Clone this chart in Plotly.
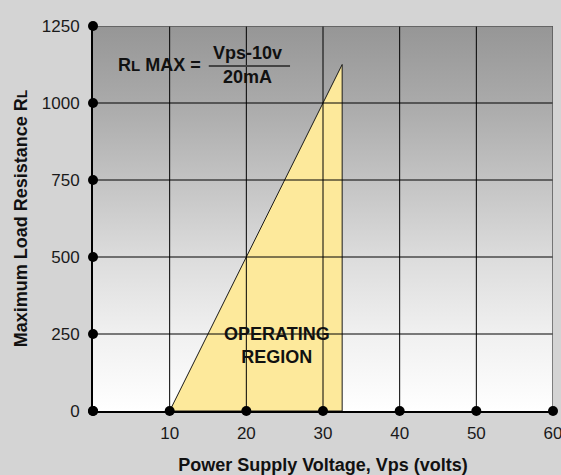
import plotly.graph_objects as go

# ---- data ----
x_ticks = [10, 20, 30, 40, 50, 60]
y_ticks = [0, 250, 500, 750, 1000, 1250]
x_range = [0, 60]
y_range = [0, 1250]
region_x = [10, 32.5, 32.5, 10]
region_y = [0, 1125, 0, 0]

FONT = "Liberation Sans, Arial, sans-serif"

fig = go.Figure()

# gradient plot background
fig.add_trace(go.Scatter(
    x=[x_range[0], x_range[1], x_range[1], x_range[0], x_range[0]],
    y=[y_range[0], y_range[0], y_range[1], y_range[1], y_range[0]],
    mode="lines", line=dict(width=0), fill="toself",
    fillgradient=dict(type="vertical",
                      colorscale=[[0, "#ffffff"], [0.2, "#f0f0f0"], [0.4, "#dcdcdc"],
                                  [0.6, "#c3c3c3"], [0.8, "#aaaaaa"], [1, "#969696"]]),
    hoverinfo="skip", showlegend=False))

# operating region
fig.add_trace(go.Scatter(
    x=region_x, y=region_y, mode="lines", fill="toself",
    fillcolor="#fde99b", line=dict(color="#1a1a1a", width=1),
    hoverinfo="skip", showlegend=False))

# grid lines above fill
gx, gy = [], []
for xv in x_ticks[:-1]:
    gx += [xv, xv, None]
    gy += [y_range[0], y_range[1], None]
for yv in y_ticks[1:-1]:
    gx += [x_range[0], x_range[1], None]
    gy += [yv, yv, None]
fig.add_trace(go.Scatter(x=gx, y=gy, mode="lines",
                         line=dict(color="#000000", width=1),
                         hoverinfo="skip", showlegend=False))
# outer border lines (top / right)
fig.add_trace(go.Scatter(x=[x_range[0], x_range[1], x_range[1]],
                         y=[y_range[1], y_range[1], y_range[0]], mode="lines",
                         line=dict(color="#555555", width=1.5), cliponaxis=False,
                         hoverinfo="skip", showlegend=False))

# axis dots
fig.add_trace(go.Scatter(x=[0] + x_ticks, y=[0] * (len(x_ticks) + 1), mode="markers",
                         marker=dict(color="black", size=10), cliponaxis=False,
                         hoverinfo="skip", showlegend=False))
fig.add_trace(go.Scatter(x=[0] * len(y_ticks), y=y_ticks, mode="markers",
                         marker=dict(color="black", size=10), cliponaxis=False,
                         hoverinfo="skip", showlegend=False))

# formula annotation
fig.add_annotation(x=8.7, y=1123, xref="x", yref="y",
                   text="<b>R<span style='font-size:15px'>L</span> MAX =</b>",
                   showarrow=False, font=dict(family=FONT, size=18, color="#111"))
fig.add_annotation(x=20.1, y=1162, xref="x", yref="y", text="<b>Vps-10v</b>",
                   showarrow=False, font=dict(family=FONT, size=18, color="#111"))
fig.add_annotation(x=20.1, y=1086, xref="x", yref="y", text="<b>20mA</b>",
                   showarrow=False, font=dict(family=FONT, size=18, color="#111"))
fig.add_shape(type="line", x0=15.1, x1=25.7, y0=1120, y1=1120, xref="x", yref="y",
              line=dict(color="#444", width=2))

fig.add_annotation(x=24.0, y=214, xref="x", yref="y", text="<b>OPERATING<br>REGION</b>",
                   showarrow=False, font=dict(family=FONT, size=18, color="#111"))

fig.update_layout(
    template="none",
    width=561, height=475,
    margin=dict(l=93, r=8, t=26, b=64),
    paper_bgcolor="#d4d4d4", plot_bgcolor="rgba(0,0,0,0)",
    font=dict(family=FONT, size=17, color="#1a1a1a"),
    xaxis=dict(range=x_range, tickvals=x_ticks, showgrid=False, zeroline=False,
               showline=True, linecolor="black", linewidth=2, ticks="",
               ticklabelstandoff=6, layer="above traces", automargin=False,
               ticklabeloverflow="allow",
               title=dict(text="<b>Power Supply Voltage, Vps (volts)</b>",
                          font=dict(size=18, color="#111"), standoff=20)),
    yaxis=dict(range=y_range, tickvals=y_ticks, showgrid=False, zeroline=False,
               showline=True, linecolor="black", linewidth=2, ticks="",
               ticklabelstandoff=8, layer="above traces", automargin=False,
               ticklabeloverflow="allow",
               title=dict(text="<b>Maximum Load Resistance R<span style='font-size:14px'>L</span></b>",
                          font=dict(size=18, color="#111"), standoff=9)),
)

fig.write_html("out.html", config={"displayModeBar": False},
               post_script="document.body.style.margin='0';document.body.style.overflow='hidden';")
